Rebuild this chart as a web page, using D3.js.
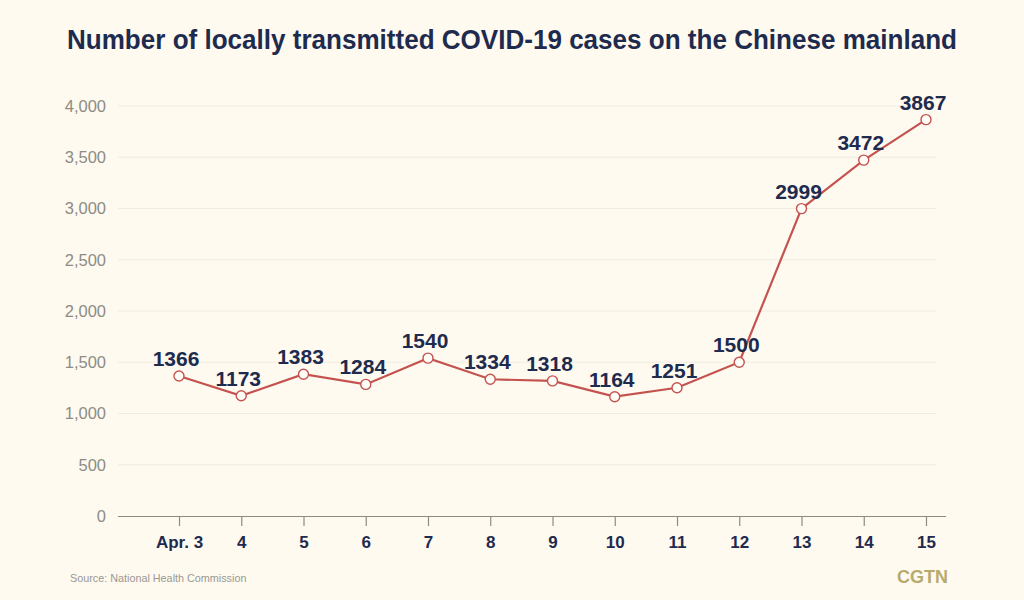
<!DOCTYPE html>
<html><head><meta charset="utf-8">
<script src="https://cdn.jsdelivr.net/npm/d3@7"></script>
<style>
html,body{margin:0;padding:0;background:#fefaf0;}
svg{display:block;}
</style></head>
<body>
<svg id="chart" width="1024" height="600"></svg>
<script>
const categories = ["Apr. 3","4","5","6","7","8","9","10","11","12","13","14","15"];
const cases = [1366,1173,1383,1284,1540,1334,1318,1164,1251,1500,2999,3472,3867];
const yTicks = [0,500,1000,1500,2000,2500,3000,3500,4000];

const navy = "#1e2b4e";
const red = "#c4534f";
const svg = d3.select("#chart");
svg.append("rect").attr("width",1024).attr("height",600).attr("fill","#fefaf0");

const x = d3.scalePoint().domain(categories).range([179, 926]);
const y = d3.scaleLinear().domain([0,4000]).range([516,106]);

// title
svg.append("text").attr("x",512).attr("y",49).attr("text-anchor","middle")
  .attr("font-family","Liberation Sans, Arial, sans-serif").attr("font-weight","bold")
  .attr("font-size",28).attr("fill",navy)
  .attr("textLength",890).attr("lengthAdjust","spacingAndGlyphs")
  .text("Number of locally transmitted COVID-19 cases on the Chinese mainland");

// gridlines
svg.append("g").selectAll("line").data(yTicks.filter(d=>d>0)).join("line")
  .attr("x1",118).attr("x2",936).attr("y1",d=>y(d)).attr("y2",d=>y(d))
  .attr("stroke","#f1ece0").attr("stroke-width",1.2);

// y axis labels
const yAxis = d3.axisLeft(y).tickValues(yTicks).tickSize(0).tickPadding(0).tickFormat(d3.format(","));
const gy = svg.append("g").attr("transform","translate(106,0)").call(yAxis);
gy.select(".domain").remove();
gy.selectAll("text").attr("font-family","Liberation Sans, Arial, sans-serif")
  .attr("font-size",16.5).attr("fill","#8d8c84");

// x axis
const xAxis = d3.axisBottom(x).tickSize(10).tickPadding(6).tickSizeOuter(0);
const gx = svg.append("g").attr("transform","translate(0,516)").call(xAxis);
gx.select(".domain").remove();
gx.append("line").attr("x1",118).attr("x2",946).attr("y1",0.5).attr("y2",0.5).attr("stroke","#8d8c84").attr("stroke-width",1.2);
gx.selectAll(".tick line").attr("stroke","#8d8c84").attr("stroke-width",1.2);
gx.selectAll("text").attr("font-family","Liberation Sans, Arial, sans-serif")
  .attr("font-size",17).attr("font-weight","bold").attr("fill",navy).attr("dy","0.95em");

// line
const line = d3.line().x((d,i)=>x(categories[i])).y(d=>y(d));
svg.append("path").datum(cases).attr("d",line).attr("fill","none")
  .attr("stroke",red).attr("stroke-width",2.2);

svg.append("g").selectAll("circle").data(cases).join("circle")
  .attr("cx",(d,i)=>x(categories[i])).attr("cy",d=>y(d)).attr("r",5)
  .attr("fill","#fffdf8").attr("stroke",red).attr("stroke-width",1.4);

svg.append("g").selectAll("text").data(cases).join("text")
  .attr("x",(d,i)=>x(categories[i]) - 3).attr("y",d=>y(d)-10)
  .attr("text-anchor","middle")
  .attr("font-family","Liberation Sans, Arial, sans-serif").attr("font-weight","bold")
  .attr("font-size",21).attr("fill",navy)
  .text(d=>d);

// source
svg.append("text").attr("x",70).attr("y",582)
  .attr("font-family","Liberation Sans, Arial, sans-serif").attr("font-size",10.8)
  .attr("fill","#9a9890").text("Source: National Health Commission");

// logo
svg.append("text").attr("x",948).attr("y",583).attr("text-anchor","end")
  .attr("font-family","Liberation Sans, Arial, sans-serif").attr("font-weight","bold")
  .attr("font-size",18).attr("fill","#b7ab6c").text("CGTN");
</script>
</body></html>
